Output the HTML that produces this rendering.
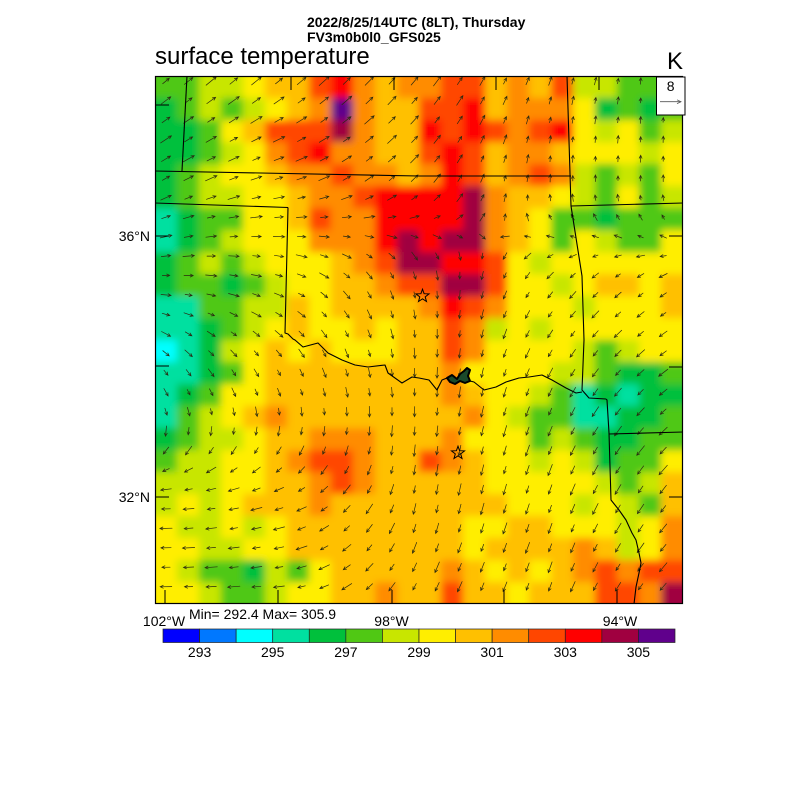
<!DOCTYPE html>
<html><head><meta charset="utf-8">
<style>
html,body{margin:0;padding:0;background:#fff;}
svg{display:block;}
text{font-family:"Liberation Sans",Arial,sans-serif;fill:#000;}
</style></head>
<body>
<svg id="s" width="800" height="800" viewBox="0 0 800 800" xmlns="http://www.w3.org/2000/svg">
<defs>
<clipPath id="mc"><rect x="155" y="76" width="528" height="528"/></clipPath>
<filter id="bl" x="-10%" y="-10%" width="120%" height="120%"><feGaussianBlur stdDeviation="4"/></filter>
</defs>
<rect width="800" height="800" fill="#fff"/>
<g clip-path="url(#mc)"><g id="field" filter="url(#bl)"></g></g>
<g id="arrows" stroke="#2a2a10" stroke-width="0.7" fill="none" clip-path="url(#mc)" stroke-linecap="round"></g>
<g id="borders" stroke="#000" stroke-width="1.1" fill="none" clip-path="url(#mc)" stroke-linejoin="round">
<path d="M187,76 L182,171"/>
<path d="M155,171 L419,176 L571,176"/>
<path d="M567,76 L571,206 L582,276 L584,340 L582,390 L589,398 L606,399"/>
<path d="M155,203 L288,207.5"/>
<path d="M288,207.5 L285,333 L288,334 L293,339 L295,340 L303,347 L318,343 L328,353 L342,360 L355,365 L368,367 L385,365 L388,373 L402,383 L412,377 L419,378 L429,380 L437,390 L442,380 L447,378"/>
<path d="M470,381 L474,382 L484,390 L496,387 L506,382 L519,378 L529,377 L542,375 L552,380 L566,388 L576,393 L582,392"/>
<path d="M606,399 L607,400 L609,433 L611,500 L619,510 L626,520 L632,533 L636,540 L639,553 L641,563 L639,573 L636,587 L634,604"/>
<path d="M571,206 L683,203"/>
<path d="M609,434 L683,432"/>
<path d="M447,378 L452,375 L457,379 L460,374 L464,371 L467,368 L470,370 L468,376 L470,381 L465,383 L460,381 L455,384 L450,382 Z" fill="#1a4a2a" stroke-width="2"/>
</g>
<g id="stars" stroke="#000" stroke-width="1" fill="none"></g>
<g id="ticks" stroke="#000" stroke-width="1"></g>
<rect x="155.5" y="76.5" width="527" height="527" fill="none" stroke="#000" stroke-width="1.2"/>
<!-- legend box -->
<rect x="656.5" y="77" width="28.5" height="38" fill="#fff" stroke="#000" stroke-width="1"/>
<text x="670.7" y="91" font-size="14" text-anchor="middle">8</text>
<line x1="660" y1="101.7" x2="681" y2="101.7" stroke="#555" stroke-width="0.8"/>
<path d="M677,99.8 L681,101.7 L677,103.6" stroke="#555" stroke-width="0.8" fill="none"/>
<!-- titles -->
<text x="307" y="27" font-size="14" font-weight="bold">2022/8/25/14UTC (8LT), Thursday</text>
<text x="307" y="42" font-size="14" font-weight="bold">FV3m0b0l0_GFS025</text>
<text x="155" y="64" font-size="24">surface temperature</text>
<text x="667" y="69" font-size="24">K</text>
<!-- axis labels -->
<text x="150" y="241" font-size="14" text-anchor="end">36°N</text>
<text x="150" y="502" font-size="14" text-anchor="end">32°N</text>
<text x="164" y="626" font-size="14" text-anchor="middle">102°W</text>
<text x="391.5" y="626" font-size="14" text-anchor="middle">98°W</text>
<text x="620" y="626" font-size="14" text-anchor="middle">94°W</text>
<text x="189" y="619" font-size="14">Min= 292.4 Max= 305.9</text>
<g id="cbar"></g>
</svg>
<script>
(function(){
var NS="http://www.w3.org/2000/svg";
function el(tag,attrs,parent){var e=document.createElementNS(NS,tag);for(var k in attrs)e.setAttribute(k,attrs[k]);parent.appendChild(e);return e;}
var pal=['#0000ff','#0078ff','#00ffff','#00e0a0','#00c03c','#50c814','#c8e600','#ffee00','#ffc000','#ff8c00','#ff4600','#ff0000','#a00040','#60008c'];
var rows=[
"5566788ab9899aa898a66555",
"45656789d988aab899974545",
"44578aaac988baba9ab76756",
"445679ab9988aba899877767",
"45677899a9989ba89a965657",
"456677899abbbbc988765756",
"3455778a99bbbbc987554555",
"3456777999bcbcc987576557",
"4565677789accbba76777777",
"45545677889aacca77678878",
"3355668788889ba977767778",
"3345678778788a9676777777",
"2346787877788a9777765677",
"334578888888897777665445",
"345778888888898776534344",
"356789888888889765533445",
"456678899988897775654455",
"5667789aa988a98776764557",
"66677889a988888777776568",
"676788898888888877767658",
"766767888888887788777679",
"776677888888887888898679",
"76554657888889878789a9aa",
"7765567788988a887888aa9c"
];
var field=document.getElementById('field');
var cs=22;
for(var r=-1;r<=24;r++){
  var rr=Math.max(0,Math.min(23,r));
  for(var c=-1;c<=24;c++){
    var cc=Math.max(0,Math.min(23,c));
    var v=parseInt(rows[rr].charAt(cc),16);
    el('rect',{x:155+c*cs,y:76+r*cs,width:cs+0.5,height:cs+0.5,fill:pal[v]},field);
  }
}
// arrows
var A=[
[40,40,50,70,90],
[30,15,45,90,90],
[0,-20,-80,-130,-150],
[-60,-70,-90,-115,-145],
[180,200,260,250,230],
[180,185,240,250,225]
];
var L=[
[14,15,14,10,8],
[14,13,12,8,7],
[12,12,10,10,10],
[10,10,12,12,13],
[13,12,13,13,14],
[14,13,12,12,12]
];
function vecAt(px,py){
  var fy=py*5, iy=Math.min(4,Math.floor(fy)), ty=fy-iy;
  var fx=px*4, ix=Math.min(3,Math.floor(fx)), tx=fx-ix;
  var u=0,v=0,l=0;
  var pts=[[iy,ix,(1-ty)*(1-tx)],[iy,ix+1,(1-ty)*tx],[iy+1,ix,ty*(1-tx)],[iy+1,ix+1,ty*tx]];
  for(var i=0;i<4;i++){var p=pts[i];var a=A[p[0]][p[1]]*Math.PI/180;u+=p[2]*Math.cos(a);v+=p[2]*Math.sin(a);l+=p[2]*L[p[0]][p[1]];}
  var m=Math.sqrt(u*u+v*v)||1;
  return [u/m,v/m,l];
}
var ag=document.getElementById('arrows');
var d="";
for(var j=0;j<27;j++){
  var y=81+j*19.45;
  for(var i=0;i<23;i++){
    var x=166+i*22.6;
    var w=vecAt((x-155)/528,(y-76)/528);
    var len=0.8*w[2]*(0.75+0.4*((i*7+j*13)%5)/4);
    var dx=w[0]*len, dy=-w[1]*len;
    var x1=x-dx/2,y1=y-dy/2,x2=x+dx/2,y2=y+dy/2;
    var ang=Math.atan2(dy,dx);
    var h=3.3;
    var a1=ang+Math.PI-0.45,a2=ang+Math.PI+0.45;
    d+="M"+x1.toFixed(1)+","+y1.toFixed(1)+"L"+x2.toFixed(1)+","+y2.toFixed(1);
    d+="M"+(x2+h*Math.cos(a1)).toFixed(1)+","+(y2+h*Math.sin(a1)).toFixed(1)+"L"+x2.toFixed(1)+","+y2.toFixed(1)+"L"+(x2+h*Math.cos(a2)).toFixed(1)+","+(y2+h*Math.sin(a2)).toFixed(1);
  }
}
el('path',{d:d},ag);
// stars
var sg=document.getElementById('stars');
function star(cx,cy,R,r){var p=[];for(var k=0;k<10;k++){var rad=(k%2==0)?R:r;var a=-Math.PI/2+k*Math.PI/5;p.push((cx+rad*Math.cos(a)).toFixed(1)+","+(cy+rad*Math.sin(a)).toFixed(1));}return p.join(" ");}
el('polygon',{points:star(422.5,296,6.8,2.8)},sg);
el('polygon',{points:star(458,453,6.8,2.8)},sg);
// ticks
var tg=document.getElementById('ticks');
[291,394,496,599].forEach(function(x){el('line',{x1:x,y1:76,x2:x,y2:90},tg);});
[165,278,392,504,617].forEach(function(x){el('line',{x1:x,y1:604,x2:x,y2:590},tg);});
[105,236,366,497].forEach(function(y){el('line',{x1:155,y1:y,x2:169,y2:y},tg);});
[105,236,367,497].forEach(function(y){el('line',{x1:683,y1:y,x2:669,y2:y},tg);});
// colorbar
var cb=document.getElementById('cbar');
var bw=512/14;
for(var k=0;k<14;k++){
  el('rect',{x:163+k*bw,y:629,width:bw,height:13.5,fill:pal[k],stroke:'#222','stroke-width':0.7},cb);
}
var labs=['293','295','297','299','301','303','305'];
for(var k=0;k<7;k++){
  var t=el('text',{x:(163+(2*k+1)*bw).toFixed(1),y:657,'font-size':14,'text-anchor':'middle'},cb);
  t.textContent=labs[k];
}
})();
</script>
</body></html>
